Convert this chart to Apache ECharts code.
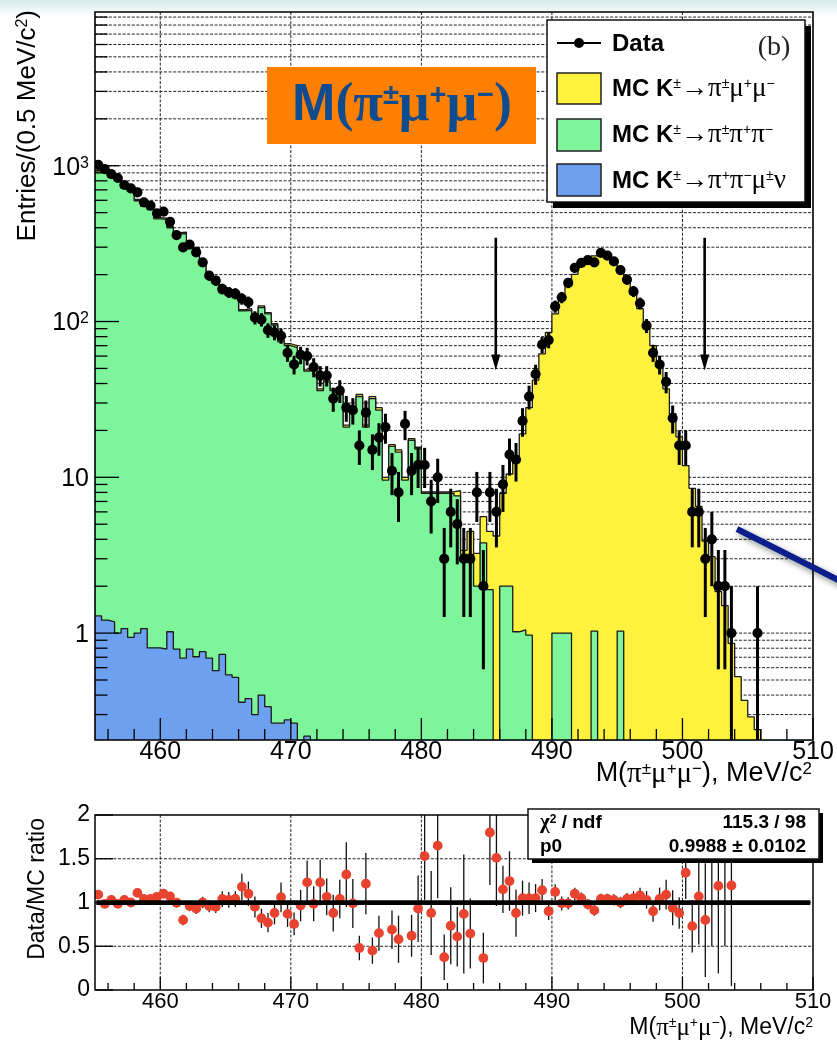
<!DOCTYPE html>
<html><head><meta charset="utf-8">
<script src="https://cdn.jsdelivr.net/npm/echarts@6/dist/echarts.min.js"></script>
<style>html,body{margin:0;padding:0;background:#fff}#c{width:837px;height:1042px}</style>
</head><body><div id="c"></div>
<script>
// ---------------- data ----------------
const BIN_LOW = 455, BIN_WIDTH = 0.5;          // 0.5 MeV bins starting at 455
const xRange = [455, 510];
const yRangeTop = [0.206, 9700];
const yRangeRatio = [0, 2];

// Data counts per bin (110 bins, 455..510)
const dataCounts = [
 1014, 951, 884, 834, 752, 716, 675, 582, 554, 495,
 507, 437, 359, 299, 312, 278, 240, 197, 183, 162,
 154, 151, 140, 133, 106, 103, 88, 85, 81, 63,
 53, 61, 60, 51, 45, 45, 32, 36, 28, 27,
 16, 26, 15, 18, 21, 11, 8, 22, 11, 12,
 12, 7, 10, 3, 6, 5, 3, 3, 8, 2,
 8, 6, 9, 14, 13, 23, 33, 46, 71, 76,
 125, 143, 177, 221, 238, 248, 240, 276, 265, 243,
 214, 186, 156, 131, 94, 63, 53, 41, 24, 16,
 16, 6, 6, 3, 4, 2, 2, 1, 0, 0,
 0, 1, 0, 0, 0, 0, 0, 0, 0, 0
];
// MC stack, cumulative: total (yellow top), green+blue, blue
const mcTotal = [
 930, 965, 858, 847, 730, 716, 608, 560, 533, 465,
 461, 408, 372, 374, 325, 299, 240, 205, 193, 156,
 150, 145, 119, 121, 112, 126, 114, 97, 76, 72,
 70, 63, 49, 52, 37, 42, 37, 35, 21.6, 27.5,
 34, 21.6, 33, 28, 10, 16.2, 15, 10, 17.7, 15.6,
 8.05, 8.05, 8.05, 8.05, 8.1, 8.2, 3.4, 4.5, 3.25, 5.6,
 4.5, 4.2, 7.9, 10.5, 13.5, 19, 28, 42, 62, 85,
 112, 144, 179, 201, 227, 253, 264, 265, 255, 236,
 214, 179, 149, 121, 91, 70, 51, 37, 25.6, 18.2,
 11.9, 8.5, 6.5, 3.9, 3.1, 1.85, 1.5, 0.86, 0.525, 0.37,
 0.29, 0.24, 0, 0, 0, 0, 0, 0, 0, 0
];
const mcGreen = [
 911, 946, 841, 830, 715, 702, 596, 549, 522, 456,
 452, 400, 365, 367, 318, 293, 235, 201, 189, 153,
 147, 142, 117, 118, 110, 123, 112, 95, 74, 70,
 68, 61, 48, 50, 36, 41, 36, 34, 21, 27,
 33, 21, 32, 27, 9.6, 15.8, 14.5, 9.6, 17.3, 15.2,
 7.9, 7.9, 7.9, 7.9, 7.9, 7.6, 3.2, 3.2, 2.0, 3.8,
 1.9, 0, 2.0, 2.0, 1.02, 1.05, 0.97, 0, 0, 0,
 1.0, 1.0, 1.0, 0, 0, 0, 1.03, 0, 0, 0,
 1.03, 0, 0, 0, 0, 0, 0, 0, 0, 0,
 0, 0, 0, 0, 0, 0, 0, 0, 0, 0,
 0, 0, 0, 0, 0, 0, 0, 0, 0, 0
];
const mcBlue = [
 1.29, 1.21, 1.18, 1.0, 1.07, 0.94, 1.0, 1.07, 0.805, 0.805,
 0.79, 1.02, 0.79, 0.69, 0.79, 0.705, 0.76, 0.69, 0.574, 0.73,
 0.54, 0.52, 0.36, 0.38, 0.30, 0.40, 0.337, 0.264, 0.264, 0.277,
 0.264, 0.15, 0.218, 0, 0, 0, 0, 0, 0, 0,
 0, 0, 0, 0, 0, 0, 0, 0, 0, 0,
 0, 0, 0, 0, 0, 0, 0, 0, 0, 0,
 0, 0, 0, 0, 0, 0, 0, 0, 0, 0,
 0, 0, 0, 0, 0, 0, 0, 0, 0, 0,
 0, 0, 0, 0, 0, 0, 0, 0, 0, 0,
 0, 0, 0, 0, 0, 0, 0, 0, 0, 0,
 0, 0, 0, 0, 0, 0, 0, 0, 0, 0
];
// Data/MC ratio for bins 0..97 (null = not drawn)
const ratio = [
 1.09, 0.985, 1.03, 0.985, 1.03, 1.0, 1.11, 1.04, 1.04, 1.065,
 1.10, 1.07, 0.997, 0.80, 0.96, 0.93, 1.0, 0.96, 0.95, 1.04,
 1.03, 1.04, 1.18, 1.10, 0.95, 0.82, 0.77, 0.88, 1.06, 0.87,
 0.755, 0.965, 1.23, 0.985, 1.23, 1.065, 0.88, 1.04, 1.32, 0.99,
 0.48, 1.215, 0.45, 0.65, null, 0.69, 0.58, null, 0.62, 0.93,
 1.53, 0.88, 1.65, 0.375, 0.735, 0.61, 0.87, 0.645, null, 0.365,
 1.80, 1.51, 1.15, 1.245, 0.88, 1.05, 1.05, 1.05, 1.14, 0.90,
 1.12, 0.99, 0.99, 1.10, 1.05, 0.98, 0.91, 1.04, 1.04, 1.03,
 1.0, 1.04, 1.05, 1.08, 1.03, 0.90, 1.04, 1.09, 0.94, 0.88,
 1.34, 0.73, 1.07, 0.80, 2.3, 1.19, 2.4, 1.195
];
const ratioErr = [
 0.035, 0.035, 0.035, 0.035, 0.04, 0.04, 0.045, 0.045, 0.045, 0.05,
 0.05, 0.05, 0.055, 0.06, 0.06, 0.06, 0.065, 0.07, 0.07, 0.09,
 0.09, 0.09, 0.15, 0.14, 0.12, 0.11, 0.11, 0.13, 0.17, 0.15,
 0.13, 0.18, 0.25, 0.2, 0.26, 0.21, 0.21, 0.22, 0.37, 0.28,
 0.14, 0.35, 0.15, 0.2, null, 0.22, 0.27, null, 0.24, 0.38,
 0.5, 0.48, 0.6, 0.26, 0.44, 0.34, 0.68, 0.4, null, 0.29,
 0.6, 0.55, 0.27, 0.34, 0.27, 0.2, 0.18, 0.16, 0.13, 0.1,
 0.09, 0.08, 0.07, 0.07, 0.065, 0.06, 0.06, 0.06, 0.06, 0.065,
 0.065, 0.07, 0.08, 0.09, 0.1, 0.12, 0.13, 0.17, 0.2, 0.18,
 0.3, 0.3, 0.55, 0.65, 1.8, 1.0, 1.9, 1.15
];
const fitP0 = 0.9988;
const fitRange = [455.1, 509.8];
const arrowsX = [485.7, 501.7];
const arrowSpan = [345, 48.5];

// tick / grid values and labels
const xMajorTicks = [460, 470, 480, 490, 500, 510];
const xMajorLabels = ['460', '470', '480', '490', '500', '510'];
const xMinorTicks = [456, 458, 462, 464, 466, 468, 472, 474, 476, 478, 482, 484, 486, 488, 492, 494, 496, 498, 502, 504, 506, 508];
const yMajorTicks = [1, 10, 100, 1000];
const yMajorLabels = ['1', '10', '10{s|2}', '10{s|3}'];
const yMinorTicks = [0.3, 0.4, 0.5, 0.6, 0.7, 0.8, 0.9, 2, 3, 4, 5, 6, 7, 8, 9,
  20, 30, 40, 50, 60, 70, 80, 90, 200, 300, 400, 500, 600, 700, 800, 900,
  2000, 3000, 4000, 5000, 6000, 7000, 8000, 9000];
const ratioTicks = [0, 0.5, 1, 1.5, 2];
const ratioLabels = ['0', '0.5', '1', '1.5', '2'];
const ratioGrid = [0.5, 1, 1.5];

// ---------------- styling ----------------
const SANS = 'Liberation Sans', SERIF = 'Liberation Serif';
const COL_Y = '#fff23e', COL_G = '#7ef59a', COL_B = '#6ea0f0', COL_R = '#e8432e';
const FLOOR = 0.02; // plotted in place of empty bins (below axis minimum)

const edge = i => BIN_LOW + i * BIN_WIDTH;
const center = i => BIN_LOW + (i + 0.5) * BIN_WIDTH;
function histData(h) {
  const out = h.map((v, i) => [edge(i), v > 0 ? v : FLOOR]);
  out.push([edge(h.length), h[h.length - 1] > 0 ? h[h.length - 1] : FLOOR]);
  return out;
}
const dataPts = dataCounts.map((v, i) => v > 0 ? [center(i), v] : null).filter(Boolean);
const ratioPts = ratio.map((r, i) => r == null ? null : [center(i), r, ratioErr[i]]).filter(Boolean);

function richSet(size, bold, extra) {
  const w = bold ? 'bold' : 'normal';
  const ss = Math.round(size * 0.62);
  return Object.assign({
    a: {fontFamily: SANS, fontSize: size, fontWeight: w, lineHeight: size},
    g: {fontFamily: SERIF, fontSize: Math.round(size * 1.08), fontWeight: w, lineHeight: size},
    s: {fontFamily: SANS, fontSize: ss, fontWeight: w, lineHeight: ss, verticalAlign: 'top'}
  }, extra || {});
}
function ln(x1, y1, x2, y2, st) {
  return {type: 'line', shape: {x1, y1, x2, y2}, style: Object.assign({stroke: '#000', lineWidth: 1.3}, st || {})};
}
function tx(text, x, y, st) {
  return {type: 'text', style: Object.assign({text, x, y, fill: '#000', fontFamily: SANS, fontSize: 24, align: 'center', verticalAlign: 'middle'}, st || {})};
}

// ---------------- renderers ----------------
function gridTop(params, api) {
  const cs = params.coordSys, L = cs.x, T = cs.y, R = cs.x + cs.width, B = cs.y + cs.height;
  const ch = [], dash = {stroke: '#222', lineWidth: 1, lineDash: [3, 1.6]};
  xMajorTicks.slice(0, -1).forEach(v => { const px = api.coord([v, yRangeTop[0]])[0]; ch.push(ln(px, T, px, B, dash)); });
  yMajorTicks.concat(yMinorTicks).forEach(v => { const py = api.coord([xRange[0], v])[1]; ch.push(ln(L, py, R, py, dash)); });
  return {type: 'group', children: ch};
}
function decorTop(params, api) {
  const cs = params.coordSys, L = cs.x, T = cs.y, R = cs.x + cs.width, B = cs.y + cs.height;
  const ch = [];
  xMajorTicks.forEach((v, k) => {
    const px = api.coord([v, yRangeTop[0]])[0];
    ch.push(ln(px, B, px, B - 22));
    ch.push(tx(xMajorLabels[k], px, B + 12, {fontSize: 25}));
  });
  xMinorTicks.forEach(v => { const px = api.coord([v, yRangeTop[0]])[0]; ch.push(ln(px, B, px, B - 11)); });
  yMajorTicks.forEach((v, k) => {
    const py = api.coord([xRange[0], v])[1];
    ch.push(ln(L, py, L + 24, py));
    ch.push(tx(yMajorLabels[k], L - 6, py + 2, {align: 'right', fontSize: 25,
      rich: {s: {fontFamily: SANS, fontSize: 16, lineHeight: 16, verticalAlign: 'top'}}}));
  });
  yMinorTicks.forEach(v => { const py = api.coord([xRange[0], v])[1]; ch.push(ln(L, py, L + 12.5, py)); });
  ch.push({type: 'rect', shape: {x: L, y: T, width: R - L, height: B - T}, style: {fill: null, stroke: '#000', lineWidth: 1.6}});
  return {type: 'group', children: ch};
}
function gridRatio(params, api) {
  const cs = params.coordSys, L = cs.x, T = cs.y, R = cs.x + cs.width, B = cs.y + cs.height;
  const ch = [], dash = {stroke: '#222', lineWidth: 1, lineDash: [3, 1.6]};
  xMajorTicks.slice(0, -1).forEach(v => { const px = api.coord([v, 0])[0]; ch.push(ln(px, T, px, B, dash)); });
  ratioGrid.forEach(v => { const py = api.coord([xRange[0], v])[1]; ch.push(ln(L, py, R, py, dash)); });
  return {type: 'group', children: ch};
}
function decorRatio(params, api) {
  const cs = params.coordSys, L = cs.x, T = cs.y, R = cs.x + cs.width, B = cs.y + cs.height;
  const ch = [];
  xMajorTicks.forEach((v, k) => {
    const px = api.coord([v, 0])[0];
    ch.push(ln(px, B, px, B - 13));
    ch.push(tx(xMajorLabels[k], px, B + 12, {fontSize: 22}));
  });
  xMinorTicks.forEach(v => { const px = api.coord([v, 0])[0]; ch.push(ln(px, B, px, B - 7)); });
  ratioTicks.forEach((v, k) => {
    const py = api.coord([xRange[0], v])[1];
    ch.push(ln(L, py, L + 18, py));
    ch.push(tx(ratioLabels[k], L - 5, py, {align: 'right', fontSize: 23}));
  });
  ch.push({type: 'rect', shape: {x: L, y: T, width: R - L, height: B - T}, style: {fill: null, stroke: '#000', lineWidth: 1.5}});
  return {type: 'group', children: ch};
}
function renderData(params, api) {
  const x = api.value(0), v = api.value(1), err = Math.sqrt(v); // Poisson error bars, as drawn
  const cs = params.coordSys;
  const c = api.coord([x, v]);
  const lo = v - err > 0 ? api.coord([x, v - err])[1] : cs.y + cs.height;
  const hi = api.coord([x, v + err])[1];
  return {type: 'group', children: [
    ln(c[0], lo, c[0], hi, {lineWidth: 3}),
    {type: 'circle', shape: {cx: c[0], cy: c[1], r: 5.1}, style: {fill: '#000'}}
  ]};
}
function renderRatio(params, api) {
  const x = api.value(0), r = api.value(1), e = api.value(2);
  const c = api.coord([x, r]);
  const lo = api.coord([x, r - e])[1], hi = api.coord([x, r + e])[1];
  return {type: 'group', children: [
    ln(c[0], lo, c[0], hi, {lineWidth: 1.3, stroke: '#111'}),
    {type: 'circle', shape: {cx: c[0], cy: c[1], r: 4.9}, style: {fill: COL_R}}
  ]};
}
function renderArrow(params, api) {
  const x = api.value(0);
  const top = api.coord([x, arrowSpan[0]]), tip = api.coord([x, arrowSpan[1]]);
  return {type: 'group', children: [
    ln(top[0], top[1], tip[0], tip[1] - 8, {lineWidth: 2.6}),
    {type: 'polygon', shape: {points: [[tip[0] - 4.5, tip[1] - 16], [tip[0] + 4.5, tip[1] - 16], [tip[0], tip[1]]]}, style: {fill: '#000'}}
  ]};
}

function histSeries(name, h, color, z) {
  return {
    name, type: 'line', xAxisIndex: 0, yAxisIndex: 0, data: histData(h), step: 'end',
    symbol: 'none', z, clip: true, silent: true,
    lineStyle: {color: '#1a1a1a', width: 1.3},
    areaStyle: {color, opacity: 1, origin: 'start'}
  };
}

const legRich = richSet(24, true, {
  g: {fontFamily: SERIF, fontSize: 27, lineHeight: 24},
  s: {fontFamily: SANS, fontSize: 14, lineHeight: 14, verticalAlign: 'top'}
});
const option = {
  animation: false,
  backgroundColor: '#fff',
  grid: [
    {left: 95, top: 12, width: 718, height: 728},
    {left: 95, top: 815, width: 718, height: 175}
  ],
  xAxis: [
    {type: 'value', gridIndex: 0, min: xRange[0], max: xRange[1], show: false},
    {type: 'value', gridIndex: 1, min: xRange[0], max: xRange[1], show: false}
  ],
  yAxis: [
    {type: 'log', logBase: 10, gridIndex: 0, min: yRangeTop[0], max: yRangeTop[1], show: false},
    {type: 'value', gridIndex: 1, min: yRangeRatio[0], max: yRangeRatio[1], show: false}
  ],
  series: [
    {type: 'custom', xAxisIndex: 0, yAxisIndex: 0, z: 1, silent: true, clip: false, renderItem: gridTop, data: [[xRange[0], yRangeTop[0]]]},
    histSeries('MC K±→π±μ+μ−', mcTotal, COL_Y, 2),
    histSeries('MC K±→π±π+π−', mcGreen, COL_G, 3),
    histSeries('MC K±→π+π−μ±ν', mcBlue, COL_B, 4),
    {type: 'custom', xAxisIndex: 0, yAxisIndex: 0, z: 5, silent: true, clip: true, renderItem: renderArrow, data: arrowsX.map(x => [x])},
    {type: 'custom', name: 'Data', xAxisIndex: 0, yAxisIndex: 0, z: 6, silent: true, clip: true, renderItem: renderData, data: dataPts},
    {type: 'custom', xAxisIndex: 0, yAxisIndex: 0, z: 10, silent: true, clip: false, renderItem: decorTop, data: [[xRange[0], yRangeTop[0]]]},

    {type: 'custom', xAxisIndex: 1, yAxisIndex: 1, z: 1, silent: true, clip: false, renderItem: gridRatio, data: [[xRange[0], 0]]},
    {type: 'custom', name: 'Data/MC', xAxisIndex: 1, yAxisIndex: 1, z: 5, silent: true, clip: true, renderItem: renderRatio, data: ratioPts},
    {type: 'line', xAxisIndex: 1, yAxisIndex: 1, z: 6, silent: true, symbol: 'none',
      data: [[fitRange[0], fitP0], [fitRange[1], fitP0]], lineStyle: {color: '#000', width: 4.6}},
    {type: 'custom', xAxisIndex: 1, yAxisIndex: 1, z: 10, silent: true, clip: false, renderItem: decorRatio, data: [[xRange[0], 0]]}
  ],
  graphic: [
    // faint slide background band at the top
    {type: 'rect', z: -10, shape: {x: 0, y: 0, width: 837, height: 16},
      style: {fill: new echarts.graphic.LinearGradient(0, 0, 0, 1, [{offset: 0, color: '#d5ebec'}, {offset: 1, color: '#ffffff'}])}},
    // orange title box
    {type: 'rect', z: 20, shape: {x: 267, y: 67, width: 269, height: 77}, style: {fill: '#ff8000'}},
    {type: 'text', z: 21, x: 402, y: 106, style: {text: '{m|M}{g|(π}{s|±}{g|μ}{s|+}{g|μ}{s|−}{g|)}', align: 'center', verticalAlign: 'middle', fill: '#0f4c8f',
      rich: {
        m: {fontFamily: SANS, fontWeight: 'bold', fontSize: 52, lineHeight: 50, fill: '#0f4c8f'},
        g: {fontFamily: SERIF, fontWeight: 'bold', fontSize: 54, lineHeight: 50, fill: '#0f4c8f'},
        s: {fontFamily: SANS, fontWeight: 'bold', fontSize: 29, lineHeight: 29, verticalAlign: 'top', fill: '#0f4c8f'}
      }}},
    // legend box
    {type: 'rect', z: 20, shape: {x: 553, y: 26, width: 258, height: 182}, style: {fill: '#000'}},
    {type: 'rect', z: 21, shape: {x: 547, y: 20, width: 258, height: 182}, style: {fill: '#fff', stroke: '#111', lineWidth: 1.5}},
    {type: 'line', z: 22, shape: {x1: 557, y1: 43, x2: 601, y2: 43}, style: {stroke: '#000', lineWidth: 2.2}},
    {type: 'circle', z: 22, shape: {cx: 579, cy: 43, r: 5}, style: {fill: '#000'}},
    {type: 'text', z: 22, x: 612, y: 44, style: {text: 'Data', fontFamily: SANS, fontWeight: 'bold', fontSize: 24, fill: '#000', align: 'left', verticalAlign: 'middle'}},
    {type: 'text', z: 22, x: 774, y: 48, style: {text: '(b)', fontFamily: SERIF, fontSize: 28, fill: '#222', align: 'center', verticalAlign: 'middle'}},
    {type: 'rect', z: 22, shape: {x: 557, y: 73, width: 44, height: 31}, style: {fill: COL_Y, stroke: '#222', lineWidth: 1.5}},
    {type: 'rect', z: 22, shape: {x: 557, y: 119, width: 44, height: 32}, style: {fill: COL_G, stroke: '#222', lineWidth: 1.5}},
    {type: 'rect', z: 22, shape: {x: 557, y: 164, width: 44, height: 32}, style: {fill: COL_B, stroke: '#222', lineWidth: 1.5}},
    {type: 'text', z: 22, x: 612, y: 89, style: {text: '{a|MC K}{s|±}{g|→π}{s|±}{g|μ}{s|+}{g|μ}{s|−}', align: 'left', verticalAlign: 'middle', rich: legRich}},
    {type: 'text', z: 22, x: 612, y: 135, style: {text: '{a|MC K}{s|±}{g|→π}{s|±}{g|π}{s|+}{g|π}{s|−}', align: 'left', verticalAlign: 'middle', rich: legRich}},
    {type: 'text', z: 22, x: 612, y: 181, style: {text: '{a|MC K}{s|±}{g|→π}{s|+}{g|π}{s|−}{g|μ}{s|±}{g|ν}', align: 'left', verticalAlign: 'middle', rich: legRich}},
    // axis titles
    {type: 'text', z: 22, x: 812, y: 774, style: {text: '{a|M(}{g|π}{s|±}{g|μ}{s|+}{g|μ}{s|−}{a|), MeV/c}{s|2}', align: 'right', verticalAlign: 'middle', rich: richSet(27, false)}},
    {type: 'text', z: 22, x: 813, y: 1028, style: {text: '{a|M(}{g|π}{s|±}{g|μ}{s|+}{g|μ}{s|−}{a|), MeV/c}{s|2}', align: 'right', verticalAlign: 'middle', rich: richSet(23, false)}},
    {type: 'text', z: 22, x: 28, y: 10, rotation: Math.PI / 2, style: {text: '{a|Entries/(0.5 MeV/c}{s|2}{a|)}', align: 'right', verticalAlign: 'middle', rich: richSet(26, false)}},
    {type: 'text', z: 22, x: 38, y: 818, rotation: Math.PI / 2, style: {text: 'Data/MC ratio', fontFamily: SANS, fontSize: 23, fill: '#000', align: 'right', verticalAlign: 'middle'}},
    // fit statistics box
    {type: 'rect', z: 20, shape: {x: 532, y: 813, width: 291, height: 50}, style: {fill: '#000'}},
    {type: 'rect', z: 21, shape: {x: 528, y: 809, width: 291, height: 50}, style: {fill: '#fff', stroke: '#111', lineWidth: 1.5}},
    {type: 'text', z: 22, x: 540, y: 823, style: {text: '{g|χ}{s|2}{a| / ndf}', align: 'left', verticalAlign: 'middle', rich: richSet(19, true)}},
    {type: 'text', z: 22, x: 806, y: 823, style: {text: '115.3 / 98', fontFamily: SANS, fontWeight: 'bold', fontSize: 19, fill: '#000', align: 'right', verticalAlign: 'middle'}},
    {type: 'text', z: 22, x: 540, y: 847, style: {text: 'p0', fontFamily: SANS, fontWeight: 'bold', fontSize: 19, fill: '#000', align: 'left', verticalAlign: 'middle'}},
    {type: 'text', z: 22, x: 806, y: 847, style: {text: '0.9988 ± 0.0102', fontFamily: SANS, fontWeight: 'bold', fontSize: 19, fill: '#000', align: 'right', verticalAlign: 'middle'}},
    // slide annotation line
    {type: 'line', z: 25, shape: {x1: 737, y1: 529, x2: 850, y2: 586},
      style: {stroke: '#0a1e8c', lineWidth: 6, shadowBlur: 6, shadowColor: 'rgba(0,0,0,0.45)', shadowOffsetX: 2, shadowOffsetY: 3}}
  ]
};
const chart = echarts.init(document.getElementById('c'), null, {renderer: 'canvas'});
chart.setOption(option);
</script>
</body></html>
